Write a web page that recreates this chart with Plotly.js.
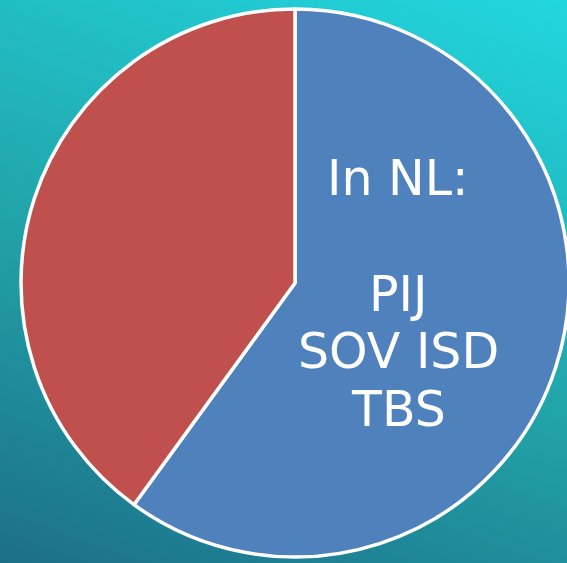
<!DOCTYPE html>
<html>
<head>
<meta charset="utf-8">
<script src="https://cdn.plot.ly/plotly-3.0.1.min.js"></script>
<style>
html, body { margin: 0; padding: 0; width: 567px; height: 563px; overflow: hidden; }
body { background: linear-gradient(20deg, #1D6F88 0%, #21A3A9 45%, #22D7DF 100%); }
#chart { width: 600px; height: 563px; }
</style>
</head>
<body>
<div id="chart"></div>
<script>
var labels = ["In NL", "Overig"];
var values = [60, 40];
var colors = ["#4F81BD", "#C0504D"];
var textLines = ["In NL:", "", "PIJ", "SOV ISD", "TBS"];

var W = 600, H = 563;
var cx = 295, cy = 283, r = 274;

var trace = {
  type: "pie",
  labels: labels,
  values: values,
  sort: false,
  direction: "clockwise",
  rotation: 0,
  textinfo: "none",
  hoverinfo: "none",
  marker: { colors: colors, line: { color: "#FFFFFF", width: 3.5 } },
  domain: { x: [(cx - r) / W, (cx + r) / W], y: [(H - cy - r) / H, (H - cy + r) / H] }
};

var annotations = [];
var baseY = 179, lineH = 57.5;
textLines.forEach(function (t, i) {
  if (!t) return;
  annotations.push({
    text: t,
    xref: "paper", yref: "paper",
    x: 398 / W, y: 1 - (baseY + i * lineH) / H,
    xanchor: "center", yanchor: "middle",
    showarrow: false,
    font: { family: "DejaVu Sans, Verdana, sans-serif", size: 49, color: "#FFFFFF" }
  });
});

var layout = {
  width: W, height: H,
  margin: { l: 0, r: 0, t: 0, b: 0 },
  paper_bgcolor: "rgba(0,0,0,0)",
  plot_bgcolor: "rgba(0,0,0,0)",
  showlegend: false,
  annotations: annotations
};

Plotly.newPlot("chart", [trace], layout, { displayModeBar: false, staticPlot: true });
</script>
</body>
</html>
